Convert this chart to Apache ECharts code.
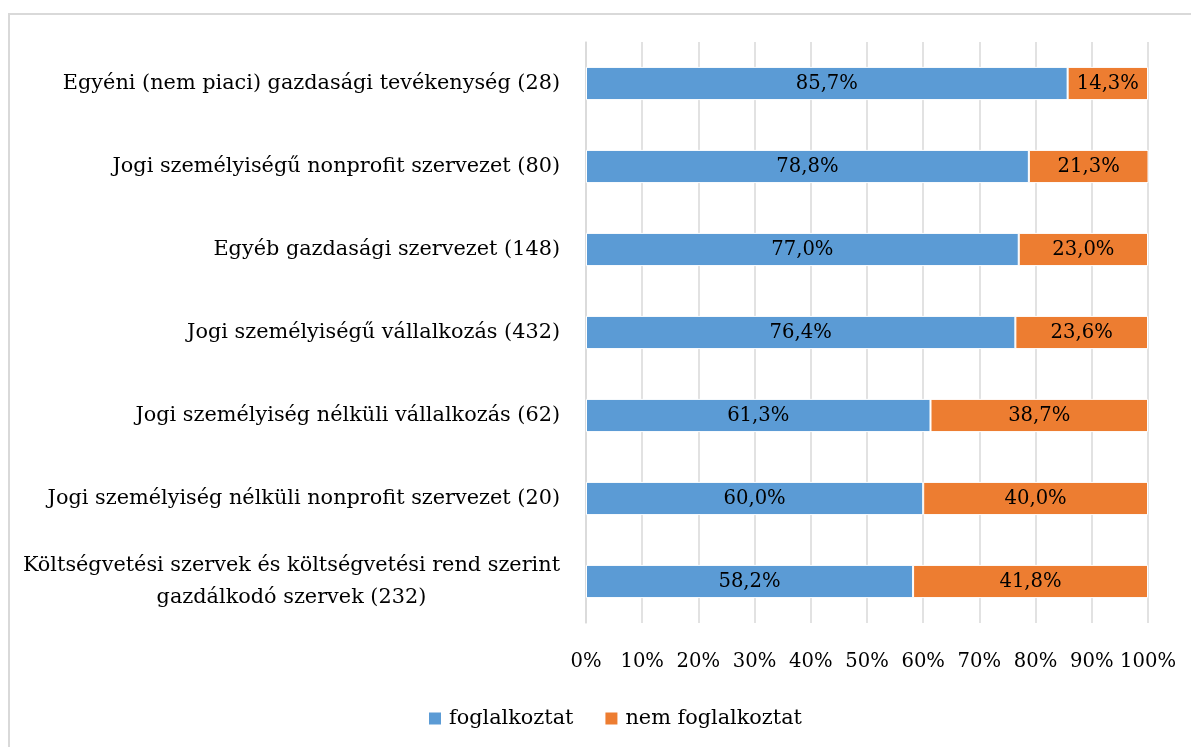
<!DOCTYPE html>
<html>
<head>
<meta charset="utf-8">
<script src="https://cdn.jsdelivr.net/npm/echarts@6/dist/echarts.min.js"></script>
<style>
  html, body { margin: 0; padding: 0; background: #fff; }
  #frame { position: absolute; left: 8px; top: 13px; width: 1200px; height: 760px; border: 2px solid #d9d9d9; box-sizing: border-box; }
  #chart { position: absolute; left: 0; top: 0; width: 1191px; height: 747px; }
</style>
</head>
<body>
<div id="frame"></div>
<div id="chart"></div>
<script>
  // kategóriák (felülről lefelé)
  const categories = [
    'Egyéni (nem piaci) gazdasági tevékenység (28)',
    'Jogi személyiségű nonprofit szervezet (80)',
    'Egyéb gazdasági szervezet (148)',
    'Jogi személyiségű vállalkozás (432)',
    'Jogi személyiség nélküli vállalkozás (62)',
    'Jogi személyiség nélküli nonprofit szervezet (20)',
    'Költségvetési szervek és költségvetési rend szerint\ngazdálkodó szervek (232)'
  ];
  const foglalkoztat = [85.7, 78.8, 77.0, 76.4, 61.3, 60.0, 58.2];
  const nemFoglalkoztat = [14.3, 21.3, 23.0, 23.6, 38.7, 40.0, 41.8];
  const seriesNames = ['foglalkoztat', 'nem foglalkoztat'];

  const font = '"DejaVu Serif", serif';
  const fsText = 20.8;   // kategória feliratok
  const fsNum = 19.6;    // számok
  const pct = v => v.toFixed(1).replace('.', ',') + '%';

  const chart = echarts.init(document.getElementById('chart'));
  const barLabel = {
    show: true,
    position: 'inside',
    fontFamily: font,
    fontSize: fsNum,
    color: '#000',
    formatter: p => pct(p.value)
  };
  const option = {
    animation: false,
    color: ['#5B9BD5', '#ED7D31'],
    textStyle: { fontFamily: font },
    grid: { left: 586, right: 43, top: 42, bottom: 124, containLabel: false },
    legend: {
      data: seriesNames,
      left: 422,
      top: 703,
      itemWidth: 14,
      itemHeight: 14,
      itemGap: 30,
      icon: 'rect',
      textStyle: { fontFamily: font, fontSize: 20.8, color: '#000', padding: [0, 0, 0, 2] }
    },
    xAxis: {
      type: 'value',
      min: 0,
      max: 100,
      interval: 10,
      axisLine: { show: false },
      axisTick: { show: false },
      splitLine: { lineStyle: { color: '#d9d9d9', width: 1.5 } },
      axisLabel: {
        margin: 29,
        fontFamily: font,
        fontSize: fsNum,
        color: '#000',
        formatter: v => v + '%'
      }
    },
    yAxis: {
      type: 'category',
      inverse: true,
      data: categories,
      axisLine: { show: true, lineStyle: { color: '#d9d9d9', width: 1.5 } },
      axisTick: { show: false },
      axisLabel: {
        margin: 26,
        align: 'right',
        color: '#000',
        formatter: v => v.split('\n').map(s => '{c|' + s + '}').join('\n'),
        rich: {
          c: { fontFamily: font, fontSize: fsText, color: '#000', align: 'center', lineHeight: 32 }
        }
      }
    },
    series: [
      {
        name: seriesNames[0],
        type: 'bar',
        stack: 'total',
        barWidth: '40%',
        data: foglalkoztat,
        itemStyle: { borderColor: '#fff', borderWidth: 1 },
        label: barLabel
      },
      {
        name: seriesNames[1],
        type: 'bar',
        stack: 'total',
        barWidth: '40%',
        data: nemFoglalkoztat,
        itemStyle: { borderColor: '#fff', borderWidth: 1 },
        label: barLabel
      }
    ]
  };
  chart.setOption(option);
</script>
</body>
</html>
